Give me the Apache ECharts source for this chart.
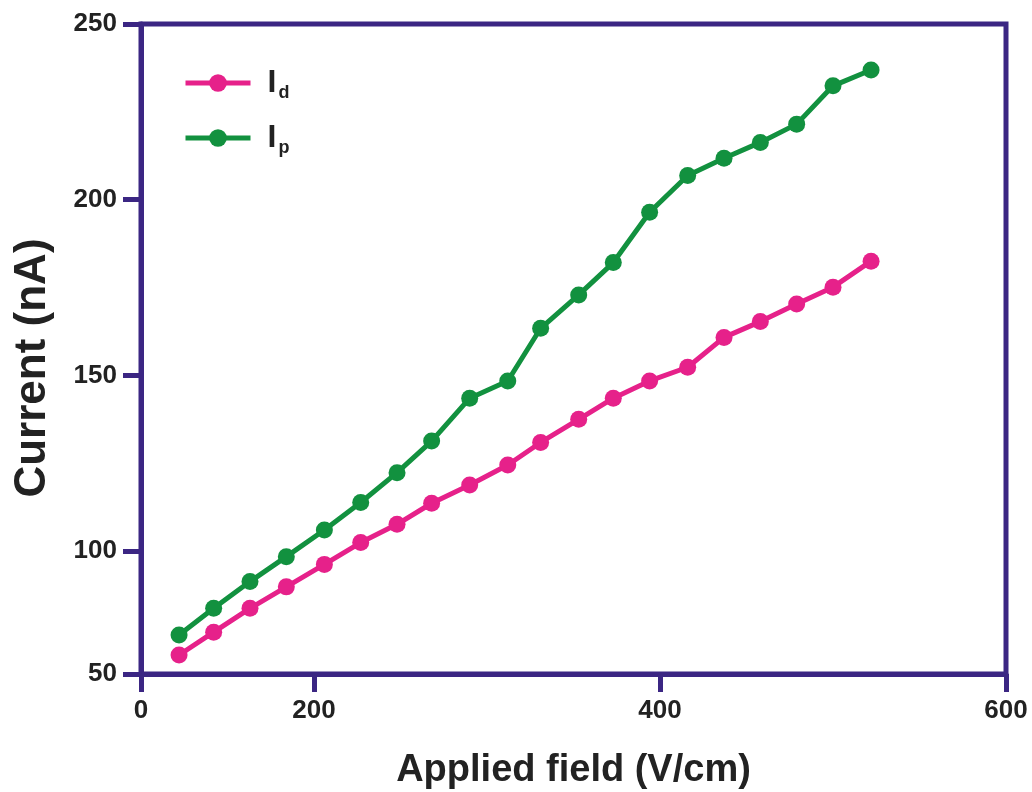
<!DOCTYPE html>
<html>
<head>
<meta charset="utf-8">
<script src="https://cdn.jsdelivr.net/npm/echarts@6/dist/echarts.min.js"></script>
<style>
  html, body { margin: 0; padding: 0; background: #fff; }
  #chart { width: 1032px; height: 792px; }
</style>
</head>
<body>
<div id="chart"></div>
<script>
// Applied field (V/cm)
const fieldValues = [122, 142, 163, 184, 206, 227, 248, 268, 290, 312, 331, 353, 373, 394, 416, 437, 458, 479, 500, 522];

// Current (nA)
const darkCurrent = [70.4, 76.9, 83.7, 89.8, 96.2, 102.4, 107.6, 113.6, 118.8, 124.5, 130.9, 137.5, 143.5, 148.4, 152.3, 160.8, 165.3, 170.3, 175.1, 182.5];
const photoCurrent = [76.1, 83.7, 91.3, 98.4, 106, 113.8, 122.3, 131.3, 143.5, 148.4, 163.4, 172.9, 182.1, 196.4, 206.9, 211.8, 216.3, 221.5, 232.4, 236.9];

// ticks: the axes start at a break, so the first tick is labelled 0 / 50
const xTickValues = [100, 200, 400, 600];
const xTickLabels = ['0', '200', '400', '600'];
const yTickValues = [65, 100, 150, 200, 250];
const yTickLabels = ['50', '100', '150', '200', '250'];

const seriesNames = ['Id', 'Ip'];
const seriesColors = ['#e6218a', '#12913f'];

const axisColor = '#3b2683';
const font = '"Liberation Sans", Arial, sans-serif';

const toPairs = (ys) => fieldValues.map((x, i) => [x, ys[i]]);

let chart = echarts.init(document.getElementById('chart'), null, { renderer: 'canvas' });

const tickLabel = (values, labels) => (v) => {
	let i = values.indexOf(v);
	return i >= 0 ? labels[i] : '';
};

chart.setOption({
	animation: false,
	backgroundColor: '#fff',
	grid: {
		left: 141,
		right: 26,
		top: 24,
		bottom: 118,
		show: true,
		borderColor: axisColor,
		borderWidth: 5,
		containLabel: false,
		outerBoundsMode: 'none'
	},
	legend: {
		orient: 'vertical',
		left: 178,
		top: 62,
		itemWidth: 65,
		itemHeight: 22,
		itemGap: 20,
		data: seriesNames,
		lineStyle: { width: 5 },
		formatter: (name) => '{i|I}{s|' + name.slice(1) + '}',
		textStyle: {
			rich: {
				i: { fontFamily: font, fontWeight: 'bold', fontSize: 32, color: '#222', padding: [0, 0, 0, 12] },
				s: { fontFamily: font, fontWeight: 'bold', fontSize: 18, color: '#222', padding: [20, 0, 0, 2] }
			}
		}
	},
	xAxis: {
		type: 'value',
		min: 100,
		max: 600,
		name: 'Applied field (V/cm)',
		nameLocation: 'middle',
		nameGap: 78,
		nameTextStyle: { fontFamily: font, fontWeight: 'bold', fontSize: 38, color: '#222' },
		splitLine: { show: false },
		axisLine: { lineStyle: { color: axisColor, width: 5 } },
		axisTick: { customValues: xTickValues, length: 18, lineStyle: { color: axisColor, width: 5 } },
		axisLabel: {
			customValues: xTickValues,
			formatter: tickLabel(xTickValues, xTickLabels),
			margin: 24,
			fontFamily: font, fontWeight: 'bold', fontSize: 26, color: '#222'
		}
	},
	yAxis: {
		type: 'value',
		min: 65,
		max: 250,
		name: 'Current (nA)',
		nameLocation: 'middle',
		nameGap: 86,
		nameTextStyle: { fontFamily: font, fontWeight: 'bold', fontSize: 44, color: '#222', padding: [0, 38, 0, 0] },
		splitLine: { show: false },
		axisLine: { show: true, lineStyle: { color: axisColor, width: 5 } },
		axisTick: { show: true, customValues: yTickValues, length: 18, lineStyle: { color: axisColor, width: 5 } },
		axisLabel: {
			customValues: yTickValues,
			formatter: tickLabel(yTickValues, yTickLabels),
			margin: 24,
			fontFamily: font, fontWeight: 'bold', fontSize: 26, color: '#222'
		}
	},
	series: [
		{
			name: seriesNames[0],
			type: 'line',
			data: toPairs(darkCurrent),
			symbol: 'circle',
			symbolSize: 17,
			color: seriesColors[0],
			lineStyle: { width: 5, color: seriesColors[0] },
			itemStyle: { color: seriesColors[0] },
			z: 3
		},
		{
			name: seriesNames[1],
			type: 'line',
			data: toPairs(photoCurrent),
			symbol: 'circle',
			symbolSize: 17,
			color: seriesColors[1],
			lineStyle: { width: 5, color: seriesColors[1] },
			itemStyle: { color: seriesColors[1] },
			z: 3
		}
	]
});
</script>
</body>
</html>
